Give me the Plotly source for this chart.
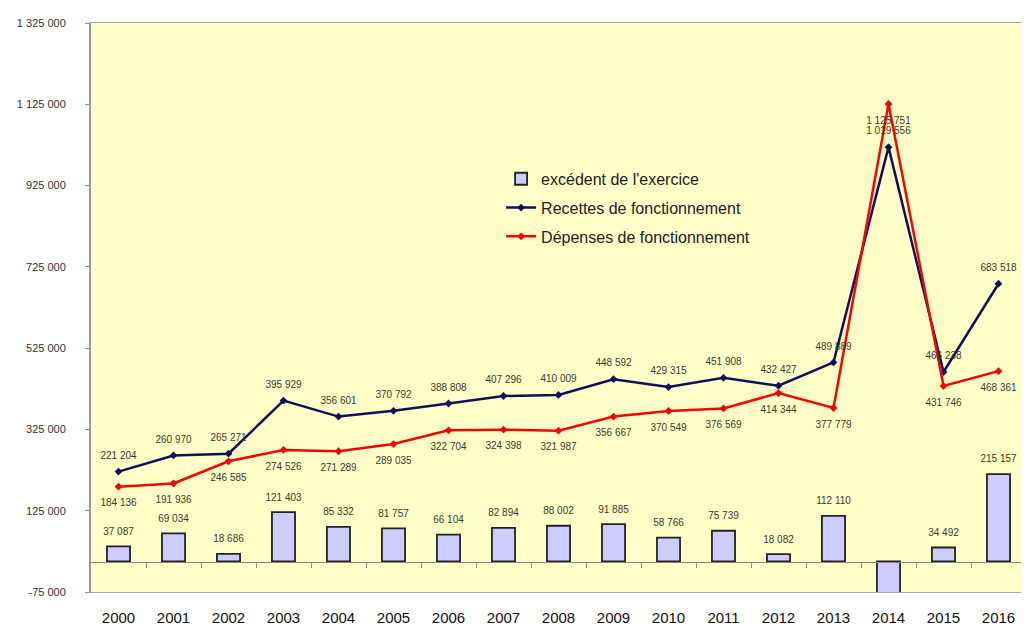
import plotly.graph_objects as go

years = ["2000", "2001", "2002", "2003", "2004", "2005", "2006", "2007", "2008",
         "2009", "2010", "2011", "2012", "2013", "2014", "2015", "2016"]
recettes = [221204, 260970, 265271, 395929, 356601, 370792, 388808, 407296, 410009,
            448592, 429315, 451908, 432427, 489889, 1019556, 466238, 683518]
depenses = [184136, 191936, 246585, 274526, 271289, 289035, 322704, 324398, 321987,
            356667, 370549, 376569, 414344, 377779, 1125751, 431746, 468361]
excedent = [37087, 69034, 18686, 121403, 85332, 81757, 66104, 82894, 88002,
            91885, 58766, 75739, 18082, 112110, -106195, 34492, 215157]

y_ticks = [-75000, 125000, 325000, 525000, 725000, 925000, 1125000, 1325000]


def fmt(v):
    return "{:,}".format(v).replace(",", " ")


FONT = "Arial, Liberation Sans, sans-serif"
LBL = dict(family=FONT, size=10, color="#3a3a2a")
CLEAR = "rgba(0,0,0,0)"

fig = go.Figure()
fig.add_trace(go.Bar(
    x=years, y=excedent, name="excédent de l'exercice", legendgroup="a",
    marker=dict(color="#CCCCFF", line=dict(color="#222222", width=1.8)),
    width=0.42,
))
fig.add_trace(go.Scatter(
    x=years, y=recettes, name="Recettes de fonctionnement", legendgroup="b",
    mode="lines+markers",
    line=dict(color="#10105a", width=2.5),
    marker=dict(symbol="diamond", size=6, color="#10105a"),
))
fig.add_trace(go.Scatter(
    x=years, y=depenses, name="Dépenses de fonctionnement", legendgroup="c",
    mode="lines+markers",
    line=dict(color="#FF0000", width=2.5),
    marker=dict(symbol="diamond", size=6, color="#FF0000"),
))

# data labels (invisible large markers give the label offset)
pos_ex = [v if v > 0 else None for v in excedent]
fig.add_trace(go.Scatter(
    x=years, y=pos_ex, mode="markers+text", showlegend=False, hoverinfo="skip",
    marker=dict(size=13, color=CLEAR), cliponaxis=False,
    text=[fmt(v) if v > 0 else "" for v in excedent],
    textposition="top center", textfont=LBL,
))
fig.add_trace(go.Scatter(
    x=years, y=recettes, mode="markers+text", showlegend=False, hoverinfo="skip",
    marker=dict(size=15, color=CLEAR), cliponaxis=False,
    text=[fmt(v) for v in recettes], textposition="top center", textfont=LBL,
))
fig.add_trace(go.Scatter(
    x=years, y=depenses, mode="markers+text", showlegend=False, hoverinfo="skip",
    marker=dict(size=18, color=CLEAR), cliponaxis=False,
    text=[fmt(v) for v in depenses], textposition="bottom center", textfont=LBL,
))
# dummy trace to draw category separator ticks along the zero line
fig.add_trace(go.Scatter(x=[], y=[], xaxis="x2", showlegend=False, hoverinfo="skip"))

zero_pos = (0 - y_ticks[0]) / (y_ticks[-1] - y_ticks[0])

fig.update_layout(
    width=1029, height=628,
    margin=dict(l=79, r=9, t=10, b=44),
    paper_bgcolor="white",
    plot_bgcolor="#FFFFC8",
    font=dict(family=FONT),
    showlegend=True,
    legend=dict(x=0.4386, y=0.756, xanchor="left", yanchor="top",
                bgcolor=CLEAR, font=dict(family=FONT, size=16, color="#222222"),
                tracegroupgap=5, itemwidth=30),
    xaxis=dict(type="category", range=[-0.5, len(years) - 0.5],
               showgrid=False, zeroline=False, ticks="",
               showline=True, linecolor="#aaaaaa", mirror=True,
               ticklabelstandoff=12,
               tickfont=dict(family=FONT, size=15, color="#111111")),
    xaxis2=dict(overlaying="x", anchor="free", position=zero_pos,
                range=[-0.5, len(years) - 0.5],
                tickvals=[i + 0.5 for i in range(len(years) - 1)],
                ticks="outside", ticklen=5, tickcolor="#888888",
                showticklabels=False, showgrid=False, zeroline=False,
                showline=True, linecolor="#888888", linewidth=1),
    yaxis=dict(range=[y_ticks[0], y_ticks[-1]],
               tickvals=y_ticks, ticktext=[fmt(v) for v in y_ticks],
               ticks="outside", ticklen=4, tickcolor="#888888",
               ticklabelstandoff=17,
               showgrid=False, zeroline=False,
               showline=True, linecolor="#999999", linewidth=2, mirror=True,
               tickfont=dict(family=FONT, size=11, color="#333333")),
)

fig.write_html("out.html")
